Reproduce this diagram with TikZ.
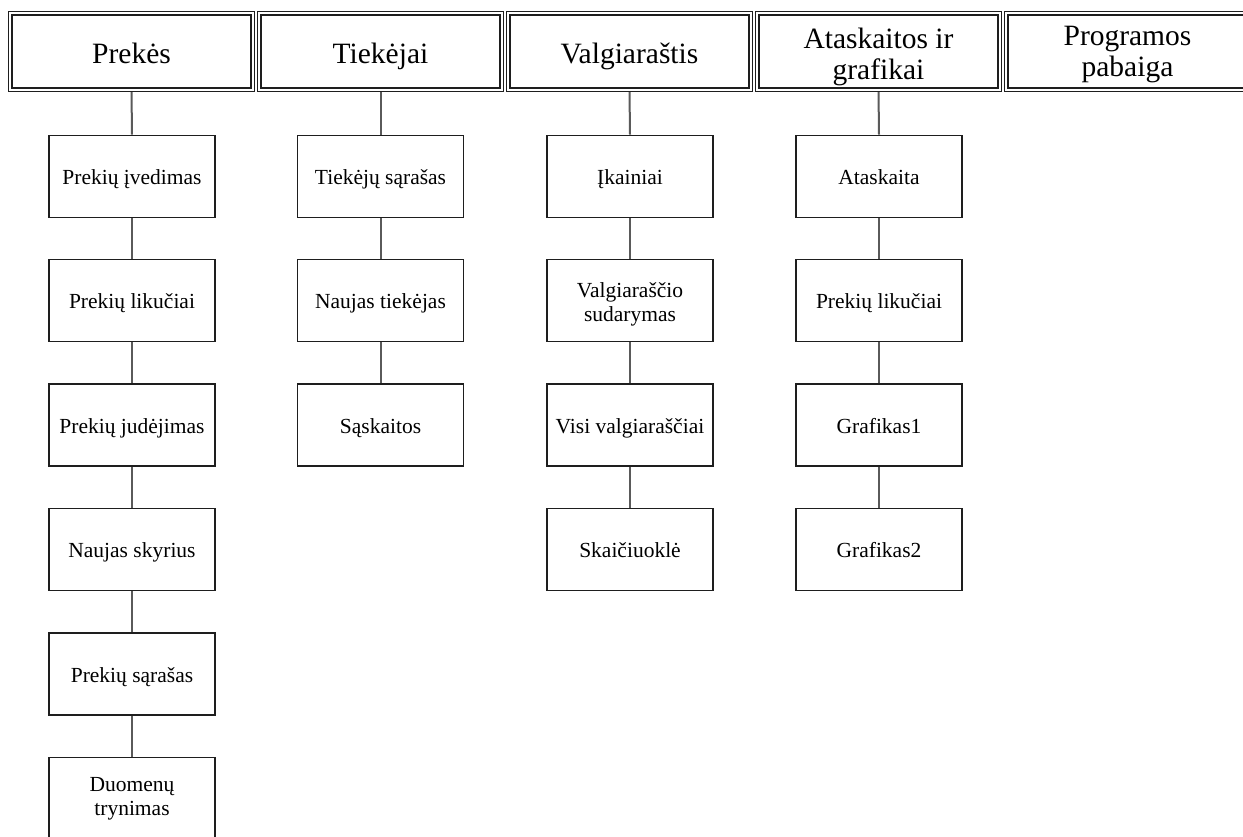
\documentclass[tikz,border=0pt]{standalone}
\usepackage{fontspec}
\setmainfont{Liberation Serif}
\usetikzlibrary{backgrounds}
\definecolor{boxline}{HTML}{1E1E1E}
\definecolor{conn}{HTML}{5A5A5A}
\tikzset{
  head/.style={draw=boxline, double=white, line width=1.7pt, double distance=1.6pt,
    fill=white, minimum width=242.5pt, minimum height=76.5pt, inner sep=0pt,
    align=center, font=\fontsize{29.5}{31}\selectfont},
  headone/.style={head, text height=23pt, text depth=0pt},
  item/.style={draw=boxline, line width=1.7pt, fill=white, minimum width=166pt,
    minimum height=82pt, inner sep=0pt, align=center,
    font=\fontsize{21.5}{24}\selectfont},
  itemone/.style={item, text height=16pt, text depth=0pt},
  conline/.style={draw=conn, line width=2pt}
}
\begin{document}
\begin{tikzpicture}[x=1pt,y=-1pt]
\useasboundingbox (0,0) rectangle (1243,836);
% headers
\node[headone] (h1) at (131.5,51.5) {Prekės};
\node[headone] (h2) at (380.5,51.5) {Tiekėjai};
\node[headone] (h3) at (629.5,51.5) {Valgiaraštis};
\node[head] (h4) at (878.5,51.5) {\rule{0pt}{31pt}Ataskaitos ir\\grafikai};
\node[head] (h5) at (1127.5,51.5) {\rule{0pt}{26pt}Programos\\pabaiga};
% column 1
\node[itemone] (a1) at (132,176.5) {Prekių įvedimas};
\node[itemone] (a2) at (132,300.5) {Prekių likučiai};
\node[itemone] (a3) at (132,425) {Prekių judėjimas};
\node[itemone] (a4) at (132,549.5) {Naujas skyrius};
\node[itemone] (a5) at (132,674) {Prekių sąrašas};
\node[item] (a6) at (132,798.5) {Duomenų\\trynimas};
% column 2
\node[itemone] (b1) at (380.5,176.5) {Tiekėjų sąrašas};
\node[itemone] (b2) at (380.5,300.5) {Naujas tiekėjas};
\node[itemone] (b3) at (380.5,425) {Sąskaitos};
% column 3
\node[itemone] (c1) at (630,176.5) {Įkainiai};
\node[item] (c2) at (630,300.5) {\rule{0pt}{23pt}Valgiaraščio\\sudarymas};
\node[itemone] (c3) at (630,425) {Visi valgiaraščiai};
\node[itemone] (c4) at (630,549.5) {Skaičiuoklė};
% column 4
\node[itemone] (d1) at (879,176.5) {Ataskaita};
\node[itemone] (d2) at (879,300.5) {Prekių likučiai};
\node[itemone] (d3) at (879,425) {Grafikas1};
\node[itemone] (d4) at (879,549.5) {Grafikas2};
\begin{scope}[on background layer]
\draw[conline] (h1.south) -- (a1.north);
\draw[conline] (a1) -- (a2);
\draw[conline] (a2) -- (a3);
\draw[conline] (a3) -- (a4);
\draw[conline] (a4) -- (a5);
\draw[conline] (a5) -- (a6);
\draw[conline] (h2.south) -- (b1.north);
\draw[conline] (b1) -- (b2);
\draw[conline] (b2) -- (b3);
\draw[conline] (h3.south) -- (c1.north);
\draw[conline] (c1) -- (c2);
\draw[conline] (c2) -- (c3);
\draw[conline] (c3) -- (c4);
\draw[conline] (h4.south) -- (d1.north);
\draw[conline] (d1) -- (d2);
\draw[conline] (d2) -- (d3);
\draw[conline] (d3) -- (d4);
\end{scope}
\end{tikzpicture}
\end{document}
